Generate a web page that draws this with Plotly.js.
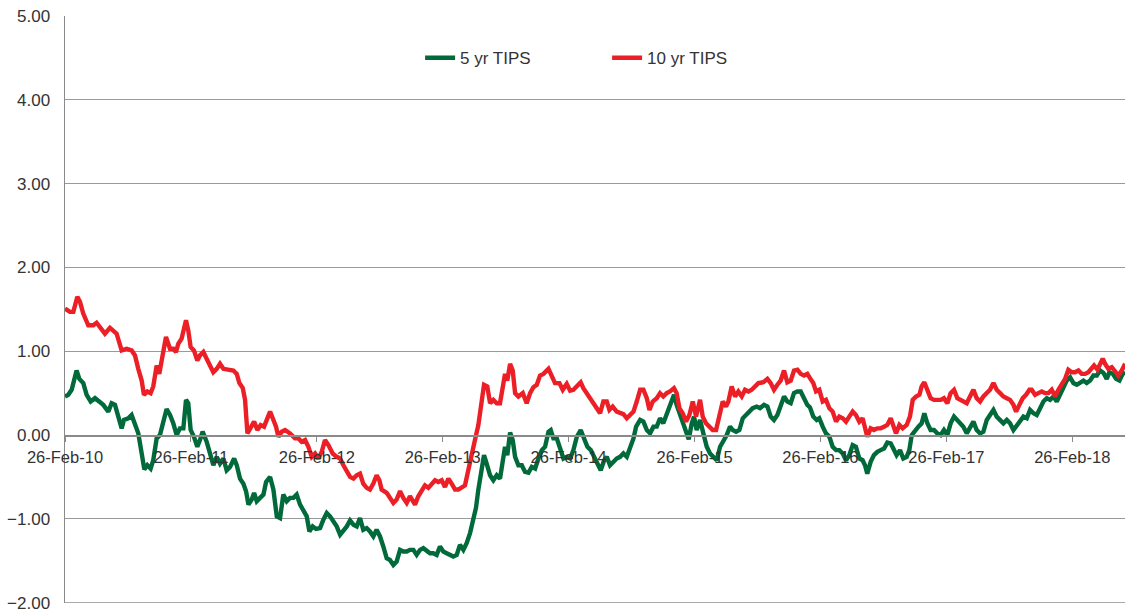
<!DOCTYPE html>
<html>
<head>
<meta charset="utf-8">
<script src="https://cdn.plot.ly/plotly-3.0.1.min.js"></script>
<style>html,body{margin:0;padding:0;background:#fff;}#chart{width:1125px;height:611px;}</style>
</head>
<body>
<div id="chart"></div>
<script>
// x values are fractional years (2010.156 = 26-Feb-2010)
const tipsNames = ["5 yr TIPS", "10 yr TIPS"];
const tickYears = [2010.156, 2011.156, 2012.156, 2013.156, 2014.156, 2015.156, 2016.156, 2017.156, 2018.156];
const tickLabels = ["26-Feb-10", "26-Feb-11", "26-Feb-12", "26-Feb-13", "26-Feb-14", "26-Feb-15", "26-Feb-16", "26-Feb-17", "26-Feb-18"];
const yTickVals = [-2, -1, 0, 1, 2, 3, 4, 5];

const tips5Dates = [
2010.156,2010.182,2010.209,2010.227,2010.248,2010.270,2010.301,2010.328,2010.360,2010.394,2010.421,2010.460,2010.500,2010.526,2010.553,2010.579,2010.606,2010.624,2010.659,2010.685,2010.712,2010.738,2010.765,2010.786,2010.810,2010.836,2010.857,2010.884,2010.910,2010.937,2010.963,2010.990,2011.016,2011.043,2011.069,2011.096,2011.117,2011.135,2011.154,2011.180,2011.207,2011.228,2011.249,2011.281,
2011.308,2011.334,2011.361,2011.387,2011.414,2011.440,2011.467,2011.499,2011.520,2011.546,2011.573,2011.594,2011.613,2011.639,2011.658,2011.679,2011.705,2011.732,2011.753,2011.785,2011.811,2011.838,2011.864,2011.890,2011.917,2011.943,2011.970,2011.996,2012.023,2012.049,2012.076,2012.097,2012.123,2012.150,2012.182,2012.208,2012.235,2012.261,2012.288,2012.314,2012.341,2012.367,2012.394,2012.420,2012.447,2012.473,
2012.499,2012.525,2012.552,2012.578,2012.605,2012.631,2012.658,2012.684,2012.711,2012.737,2012.764,2012.790,2012.817,2012.843,2012.870,2012.896,2012.923,2012.949,2012.976,2013.002,2013.029,2013.055,2013.081,2013.108,2013.134,2013.161,2013.187,2013.214,2013.240,2013.267,2013.293,2013.320,2013.346,2013.373,2013.399,2013.420,2013.439,2013.457,2013.484,2013.505,2013.532,2013.558,2013.585,2013.611,2013.632,2013.651,2013.669,
2013.691,2013.712,2013.731,2013.757,2013.784,2013.810,2013.837,2013.863,2013.890,2013.916,2013.943,2013.969,2013.996,2014.014,2014.035,2014.062,2014.088,2014.115,2014.141,2014.168,2014.194,2014.221,2014.252,2014.279,2014.305,2014.332,2014.358,2014.385,2014.411,2014.438,2014.459,2014.485,2014.512,2014.538,2014.565,2014.591,2014.618,2014.644,2014.671,2014.692,2014.724,2014.750,2014.777,2014.803,2014.830,2014.856,
2014.882,2014.908,2014.935,2014.961,2014.993,2015.014,2015.036,2015.062,2015.089,2015.110,2015.134,2015.152,2015.173,2015.200,2015.226,2015.253,2015.279,2015.306,2015.332,2015.359,2015.385,2015.412,2015.438,2015.459,2015.486,2015.512,2015.539,2015.565,2015.592,2015.618,2015.650,2015.676,2015.708,2015.735,2015.761,2015.787,2015.814,2015.840,2015.867,2015.893,2015.920,2015.946,2015.973,2015.999,2016.026,2016.052,
2016.073,2016.099,2016.126,2016.147,2016.174,2016.200,2016.227,2016.253,2016.280,2016.306,2016.333,2016.359,2016.385,2016.412,2016.438,2016.465,2016.491,2016.510,2016.528,2016.555,2016.581,2016.608,2016.634,2016.661,2016.687,2016.714,2016.735,2016.761,2016.788,2016.814,2016.841,2016.862,2016.881,2016.907,2016.934,2016.960,2016.981,2017.005,2017.031,2017.058,2017.084,2017.111,2017.137,2017.164,2017.190,2017.217,2017.243,
2017.265,2017.291,2017.318,2017.344,2017.371,2017.397,2017.424,2017.450,2017.477,2017.503,2017.530,2017.556,2017.583,2017.609,2017.636,2017.662,2017.689,2017.715,2017.742,2017.768,2017.795,2017.821,2017.848,2017.874,2017.901,2017.927,2017.954,2017.980,2018.007,2018.033,2018.059,2018.086,2018.112,2018.139,2018.165,2018.192,2018.218,2018.245,2018.271,2018.298,2018.324,2018.351,2018.377,2018.404,2018.430,2018.451,2018.478,2018.504,2018.531,2018.557,2018.576
];
const tips5Values = [
0.46,0.48,0.54,0.65,0.77,0.67,0.62,0.48,0.40,0.44,0.40,0.36,0.28,0.38,0.36,0.24,0.08,0.18,0.20,0.24,0.14,0.02,-0.22,-0.41,-0.36,-0.40,-0.30,-0.04,0.00,0.14,0.31,0.24,0.14,0.00,0.08,0.08,0.42,0.38,0.06,-0.02,-0.14,-0.06,0.04,-0.08,
-0.22,-0.36,-0.26,-0.34,-0.28,-0.42,-0.38,-0.28,-0.36,-0.52,-0.58,-0.67,-0.83,-0.77,-0.69,-0.79,-0.75,-0.71,-0.56,-0.50,-0.65,-0.97,-0.99,-0.71,-0.79,-0.75,-0.75,-0.71,-0.83,-0.89,-0.97,-1.15,-1.09,-1.12,-1.11,-1.01,-0.93,-0.97,-1.03,-1.09,-1.19,-1.15,-1.09,-1.02,-1.07,-1.09,
-0.99,-1.13,-1.11,-1.15,-1.21,-1.13,-1.21,-1.33,-1.47,-1.49,-1.55,-1.51,-1.37,-1.39,-1.39,-1.37,-1.37,-1.43,-1.37,-1.35,-1.39,-1.41,-1.41,-1.43,-1.33,-1.39,-1.41,-1.43,-1.45,-1.43,-1.31,-1.37,-1.29,-1.17,-0.97,-0.87,-0.65,-0.46,-0.24,-0.34,-0.48,-0.54,-0.48,-0.52,-0.34,-0.14,-0.24,
0.03,-0.06,-0.26,-0.36,-0.36,-0.44,-0.45,-0.38,-0.40,-0.28,-0.18,-0.14,0.04,0.06,-0.04,-0.04,-0.14,-0.28,-0.26,-0.28,-0.18,-0.02,0.06,-0.06,-0.14,-0.18,-0.26,-0.36,-0.42,-0.30,-0.26,-0.36,-0.32,-0.28,-0.26,-0.22,-0.26,-0.16,-0.04,0.10,0.18,0.16,0.06,0.02,0.10,0.10,
0.20,0.14,0.26,0.34,0.48,0.36,0.26,0.18,0.02,-0.05,0.14,0.22,0.06,0.18,0.02,-0.14,-0.22,-0.26,-0.30,-0.14,-0.08,0.00,0.10,0.06,0.04,0.06,0.20,0.24,0.28,0.32,0.34,0.32,0.36,0.34,0.22,0.18,0.24,0.34,0.46,0.40,0.38,0.50,0.52,0.52,0.44,0.36,
0.33,0.22,0.18,0.20,0.10,0.02,-0.02,-0.14,-0.18,-0.18,-0.22,-0.30,-0.24,-0.12,-0.14,-0.28,-0.30,-0.36,-0.46,-0.32,-0.24,-0.20,-0.18,-0.16,-0.09,-0.10,-0.16,-0.24,-0.18,-0.28,-0.26,-0.18,0.00,0.06,0.10,0.14,0.26,0.14,0.06,0.06,0.02,0.00,0.06,0.00,0.14,0.22,0.18,
0.14,0.10,0.02,0.10,0.16,0.06,0.02,0.04,0.18,0.24,0.30,0.22,0.18,0.14,0.18,0.14,0.06,0.12,0.18,0.22,0.20,0.30,0.26,0.24,0.32,0.40,0.44,0.42,0.46,0.40,0.48,0.56,0.65,0.69,0.62,0.60,0.62,0.65,0.62,0.65,0.71,0.71,0.77,0.74,0.67,0.75,0.73,0.67,0.65,0.73,0.75
];

const tips10Dates = [
2010.156,2010.195,2010.222,2010.254,2010.275,2010.301,2010.341,2010.381,2010.407,2010.434,2010.473,2010.513,2010.540,2010.566,2010.606,2010.646,2010.685,2010.712,2010.738,2010.765,2010.783,2010.810,2010.836,2010.857,2010.884,2010.905,2010.924,2010.958,2010.990,2011.016,2011.037,2011.056,2011.082,2011.096,2011.117,2011.135,2011.154,2011.180,2011.207,2011.228,2011.255,2011.281,
2011.308,2011.334,2011.361,2011.387,2011.414,2011.454,2011.493,2011.520,2011.541,2011.568,2011.586,2011.605,2011.631,2011.658,2011.684,2011.710,2011.737,2011.763,2011.785,2011.806,2011.832,2011.851,2011.877,2011.904,2011.943,2011.983,2012.010,2012.036,2012.063,2012.089,2012.116,2012.142,2012.168,2012.195,2012.221,2012.248,2012.282,2012.314,2012.341,2012.367,2012.394,2012.420,2012.447,2012.473,
2012.499,2012.525,2012.552,2012.578,2012.605,2012.631,2012.653,2012.671,2012.711,2012.737,2012.764,2012.790,2012.817,2012.843,2012.870,2012.896,2012.923,2012.936,2012.962,2012.989,2013.015,2013.042,2013.068,2013.095,2013.121,2013.148,2013.174,2013.201,2013.227,2013.254,2013.280,2013.307,2013.333,2013.359,2013.386,2013.412,2013.439,2013.457,2013.484,2013.510,2013.532,2013.558,2013.585,2013.611,2013.632,2013.651,2013.669,
2013.691,2013.712,2013.731,2013.757,2013.792,2013.823,2013.850,2013.876,2013.903,2013.929,2013.956,2013.996,2014.022,2014.048,2014.083,2014.109,2014.141,2014.168,2014.194,2014.221,2014.252,2014.273,2014.300,2014.326,2014.353,2014.379,2014.406,2014.432,2014.459,2014.480,2014.506,2014.538,2014.565,2014.591,2014.618,2014.644,2014.671,2014.697,2014.724,2014.750,2014.777,2014.798,2014.824,2014.856,
2014.882,2014.908,2014.935,2014.961,2014.993,2015.014,2015.036,2015.062,2015.089,2015.115,2015.142,2015.168,2015.200,2015.221,2015.247,2015.274,2015.300,2015.327,2015.353,2015.380,2015.406,2015.425,2015.451,2015.478,2015.504,2015.531,2015.557,2015.584,2015.610,2015.637,2015.663,2015.703,2015.735,2015.761,2015.787,2015.814,2015.840,2015.867,2015.893,2015.920,2015.946,2015.973,2015.999,2016.026,2016.052,
2016.073,2016.099,2016.121,2016.147,2016.174,2016.200,2016.227,2016.253,2016.280,2016.306,2016.333,2016.359,2016.385,2016.412,2016.438,2016.465,2016.491,2016.510,2016.528,2016.555,2016.581,2016.608,2016.634,2016.661,2016.687,2016.714,2016.735,2016.756,2016.783,2016.809,2016.841,2016.867,2016.889,2016.915,2016.942,2016.960,2016.981,2017.005,2017.031,2017.058,2017.084,2017.111,2017.137,2017.164,2017.190,2017.217,2017.243,
2017.265,2017.291,2017.318,2017.344,2017.371,2017.397,2017.424,2017.450,2017.477,2017.503,2017.530,2017.556,2017.583,2017.609,2017.636,2017.662,2017.689,2017.710,2017.736,2017.763,2017.789,2017.816,2017.834,2017.861,2017.887,2017.914,2017.940,2017.967,2017.993,2018.020,2018.046,2018.073,2018.099,2018.125,2018.152,2018.178,2018.205,2018.231,2018.258,2018.284,2018.311,2018.329,2018.356,2018.377,2018.398,2018.417,2018.443,2018.470,2018.496,2018.523,2018.549,2018.576
];
const tips10Values = [
1.51,1.47,1.47,1.65,1.59,1.45,1.31,1.31,1.34,1.29,1.21,1.28,1.25,1.21,1.01,1.03,1.01,0.95,0.79,0.65,0.48,0.52,0.50,0.58,0.83,0.73,0.89,1.17,1.03,1.03,0.99,1.09,1.15,1.23,1.37,1.25,1.05,1.01,0.89,0.95,0.99,0.91,
0.82,0.75,0.79,0.85,0.79,0.78,0.77,0.73,0.62,0.56,0.42,0.02,0.10,0.16,0.06,0.12,0.10,0.20,0.28,0.20,0.10,-0.02,0.04,0.06,0.02,-0.04,-0.04,-0.08,-0.06,-0.14,-0.26,-0.22,-0.28,-0.20,-0.06,-0.12,-0.22,-0.26,-0.28,-0.36,-0.42,-0.50,-0.52,-0.48,
-0.46,-0.58,-0.63,-0.65,-0.58,-0.48,-0.54,-0.65,-0.69,-0.75,-0.81,-0.77,-0.67,-0.75,-0.81,-0.73,-0.79,-0.83,-0.73,-0.67,-0.60,-0.63,-0.58,-0.54,-0.56,-0.54,-0.62,-0.52,-0.58,-0.65,-0.65,-0.62,-0.60,-0.42,-0.26,-0.06,0.12,0.34,0.60,0.58,0.38,0.42,0.38,0.38,0.54,0.73,0.65,
0.85,0.77,0.50,0.46,0.50,0.38,0.50,0.57,0.60,0.71,0.73,0.79,0.71,0.62,0.62,0.54,0.61,0.53,0.54,0.58,0.63,0.56,0.50,0.46,0.40,0.34,0.26,0.40,0.40,0.30,0.34,0.28,0.26,0.25,0.20,0.24,0.28,0.40,0.54,0.54,0.44,0.30,0.40,0.44,
0.50,0.46,0.50,0.52,0.56,0.50,0.32,0.26,0.16,0.24,0.40,0.22,0.42,0.22,0.14,0.10,0.06,0.06,0.24,0.40,0.34,0.40,0.58,0.46,0.52,0.46,0.54,0.52,0.54,0.58,0.62,0.63,0.67,0.62,0.54,0.60,0.65,0.77,0.63,0.65,0.77,0.78,0.73,0.71,0.73,
0.68,0.62,0.52,0.54,0.40,0.42,0.32,0.28,0.16,0.22,0.20,0.16,0.22,0.28,0.24,0.16,0.20,0.06,-0.02,0.08,0.06,0.08,0.08,0.10,0.12,0.20,0.12,0.02,0.12,0.08,0.12,0.22,0.42,0.46,0.48,0.58,0.63,0.52,0.44,0.42,0.42,0.42,0.44,0.38,0.50,0.54,0.44,
0.42,0.40,0.38,0.46,0.54,0.44,0.40,0.46,0.50,0.54,0.62,0.54,0.50,0.46,0.44,0.42,0.36,0.28,0.36,0.44,0.48,0.54,0.54,0.48,0.50,0.52,0.50,0.50,0.54,0.46,0.54,0.62,0.67,0.78,0.75,0.75,0.77,0.73,0.73,0.75,0.79,0.83,0.78,0.85,0.91,0.85,0.79,0.81,0.75,0.71,0.77,0.85
];

const gridGray = '#9a9a9a';
const textGray = '#333333';
const fontFam = 'Liberation Sans, Arial, Helvetica, sans-serif';

const traces = [
  {x: tips5Dates, y: tips5Values, name: tipsNames[0], type: 'scatter', mode: 'lines',
   line: {color: '#006a3a', width: 4.4}, hoverinfo: 'skip'},
  {x: tips10Dates, y: tips10Values, name: tipsNames[1], type: 'scatter', mode: 'lines',
   line: {color: '#ec1f27', width: 4.4}, hoverinfo: 'skip'}
];

const layout = {
  width: 1125, height: 611,
  margin: {l: 65, r: 0, t: 16, b: 8, pad: 0},
  paper_bgcolor: '#ffffff', plot_bgcolor: '#ffffff',
  font: {family: fontFam, size: 17, color: textGray},
  showlegend: true,
  legend: {orientation: 'h', x: 0.335, xanchor: 'left', y: 0.928, yanchor: 'middle',
           font: {family: fontFam, size: 17, color: textGray},
           entrywidth: 142, entrywidthmode: 'pixels', bgcolor: 'rgba(0,0,0,0)'},
  xaxis: {type: 'linear', range: [2010.156, 2018.575], anchor: 'free', position: 2/7,
          tickmode: 'array', tickvals: tickYears, ticktext: tickLabels,
          showgrid: false, zeroline: false, showline: true, linecolor: '#8a8a8a', linewidth: 1.5,
          ticks: 'outside', ticklen: 5, tickcolor: '#8a8a8a', tickwidth: 1,
          tickfont: {family: fontFam, size: 16.5, color: textGray}, ticklabelstandoff: 1, fixedrange: true},
  yaxis: {range: [-2.004, 5.0], tickmode: 'array', tickvals: yTickVals, tickformat: '.2f',
          showgrid: true, gridcolor: gridGray, gridwidth: 1,
          zeroline: false, showline: true, linecolor: '#8a8a8a', linewidth: 1.5,
          ticks: '', ticklabelstandoff: 10, ticklabeloverflow: 'allow',
          tickfont: {family: fontFam, size: 17, color: textGray}, fixedrange: true},
  shapes: [{type: 'line', xref: 'paper', x0: 0, x1: 1, yref: 'y', y0: -2, y1: -2,
            line: {color: gridGray, width: 1}, layer: 'below'}]
};

Plotly.newPlot('chart', traces, layout, {displayModeBar: false, staticPlot: true});
</script>
</body>
</html>
